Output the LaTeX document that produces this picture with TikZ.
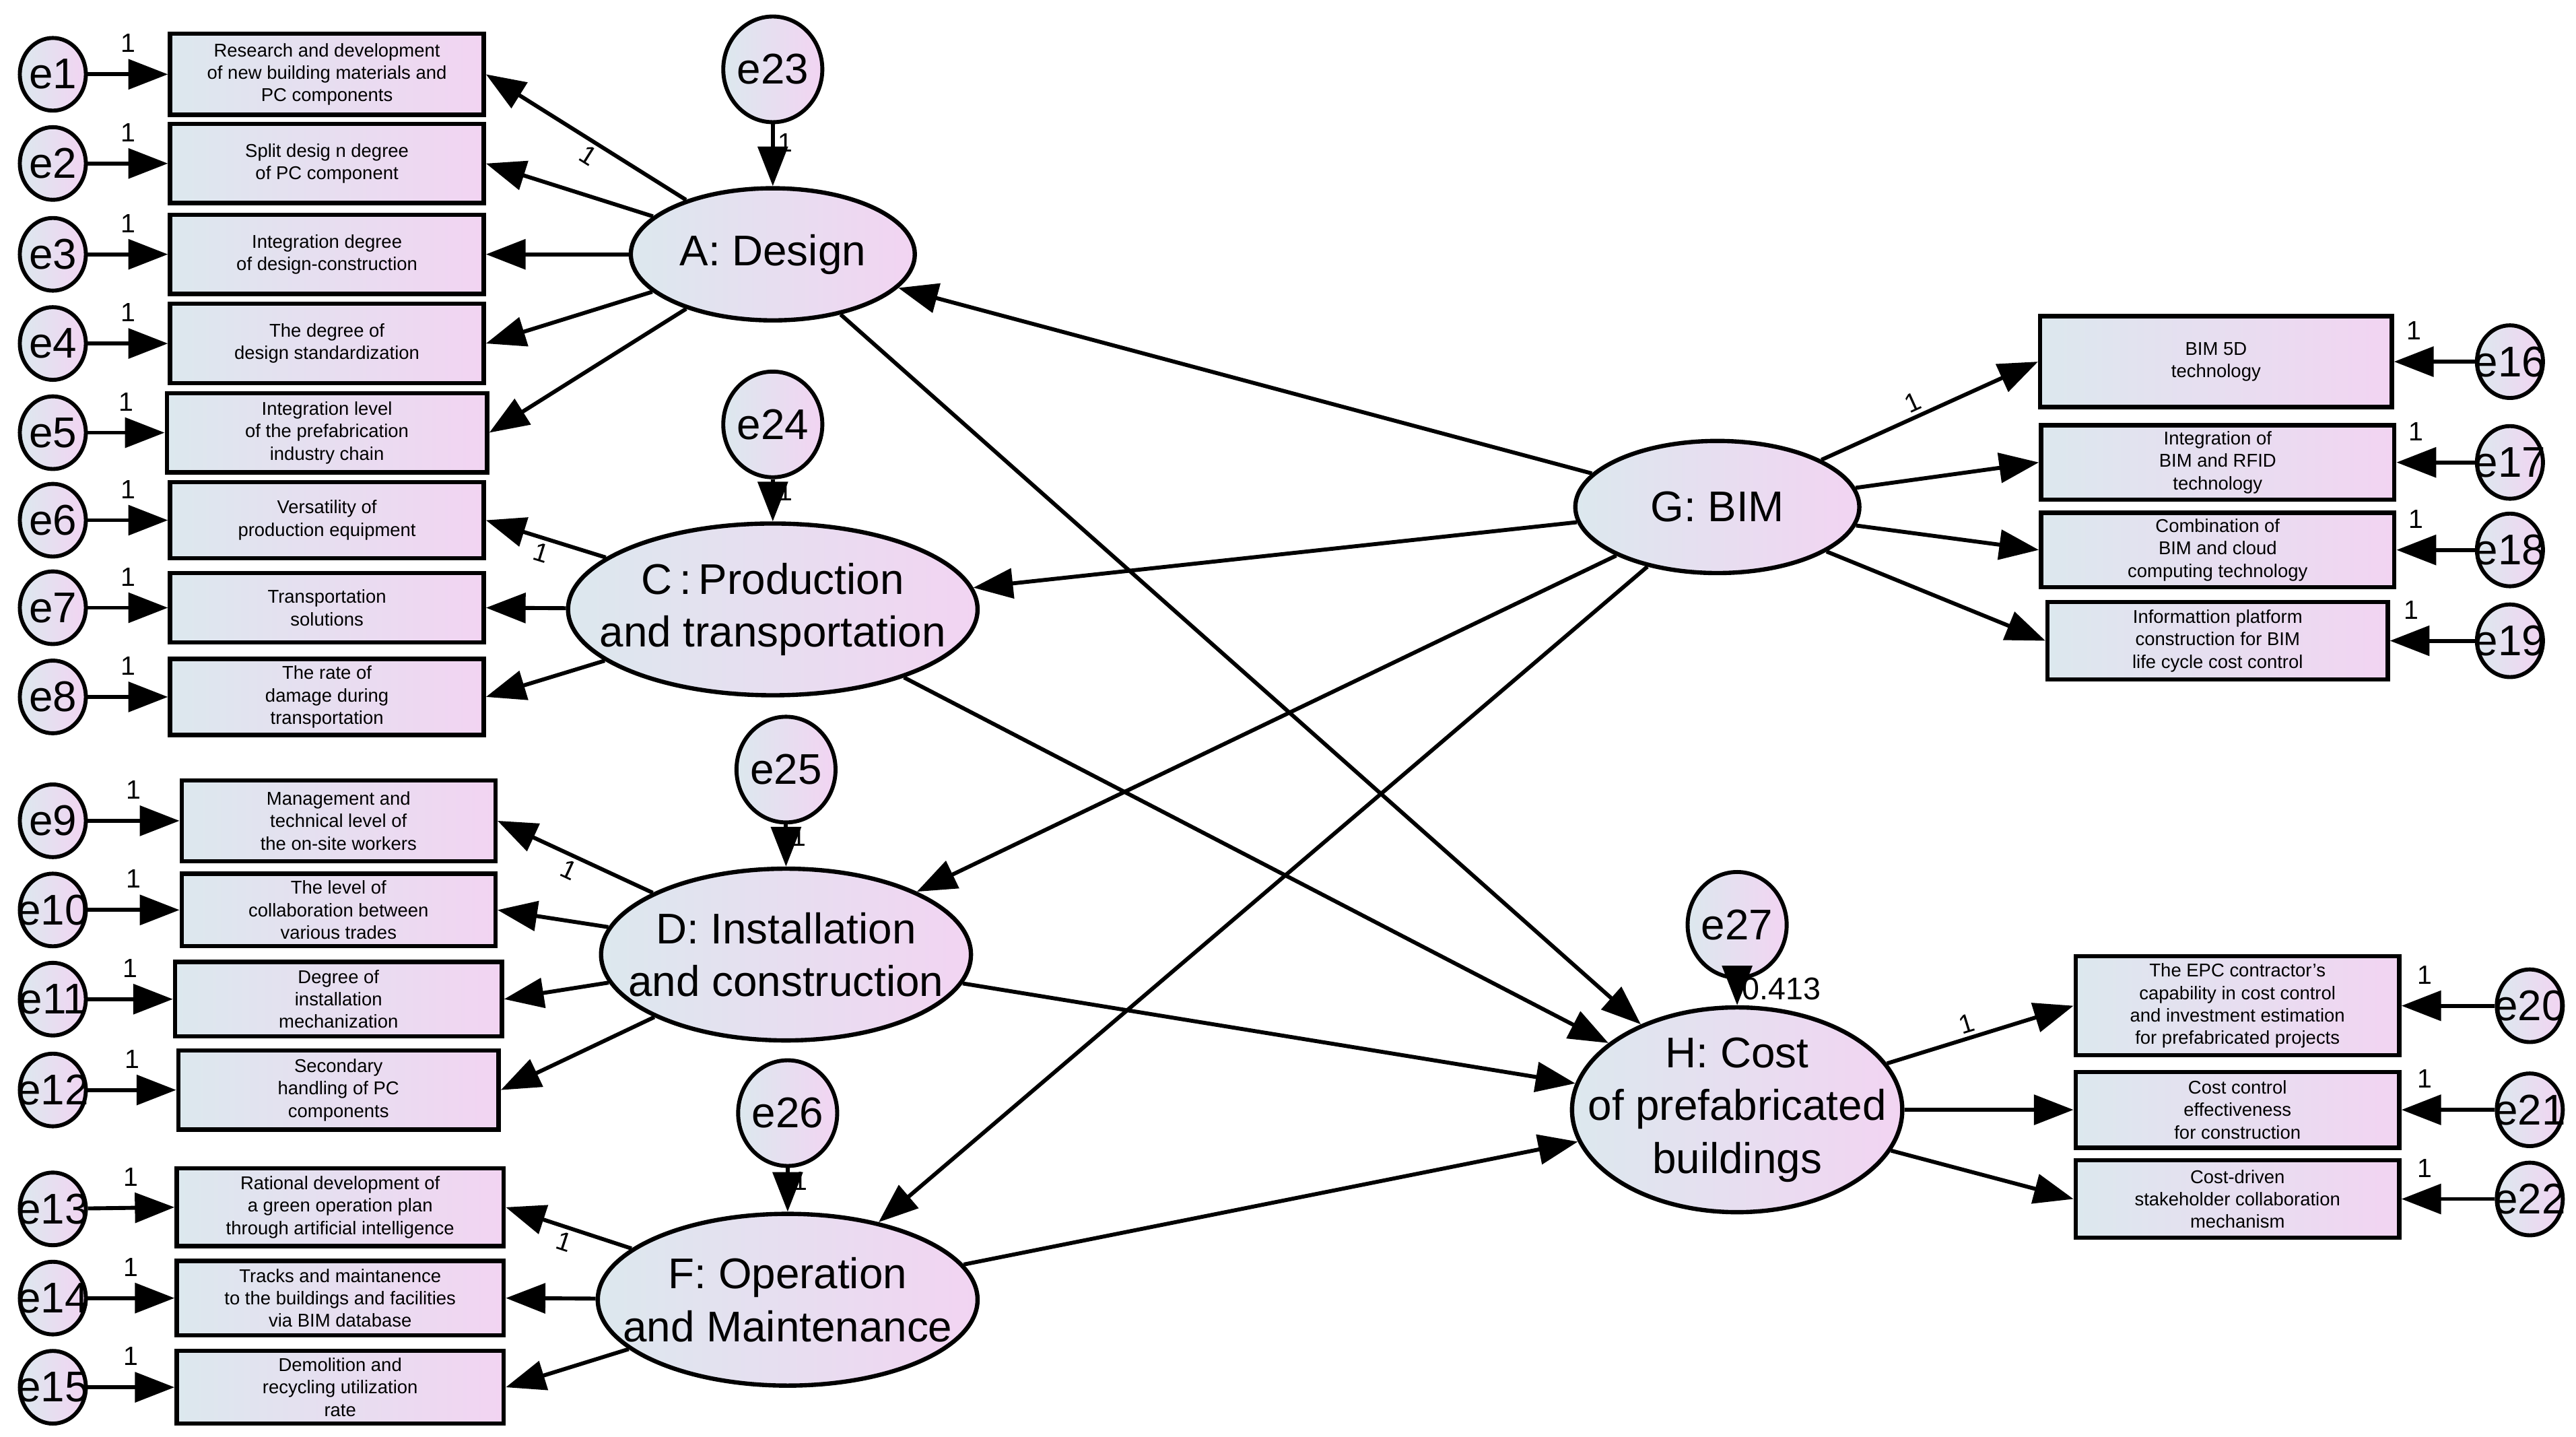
\documentclass[tikz,border=0pt]{standalone}
\usepackage{fontspec}
\setmainfont{Liberation Sans}
\usetikzlibrary{shapes.geometric,arrows.meta}
\definecolor{shL}{HTML}{DCE8EE}
\definecolor{shR}{HTML}{F2D4F2}
\begin{document}
\begin{tikzpicture}[x=0.5pt,y=-0.5pt,
  fillsh/.style={left color=shL,right color=shR},
  box/.style={draw,line width=1.3pt,fillsh,font=\fontsize{5.6}{6.8}\selectfont,align=center,minimum width=95pt,inner sep=0pt},
  err/.style={ellipse,draw,line width=1.2pt,fillsh,minimum width=20pt,minimum height=22pt,inner sep=-5pt,font=\fontsize{13}{13}\selectfont},
  errb/.style={err,minimum width=30pt,minimum height=32pt},
  lat/.style={ellipse,draw,line width=1.3pt,fillsh,inner xsep=-20pt,inner ysep=-6pt,align=center,font=\fontsize{13}{16}\selectfont},
  arr/.style={line width=1.2pt,-{Triangle[length=12pt,width=9pt]}},
  lab/.style={font=\fontsize{8}{8}\selectfont,inner sep=1pt}]
\useasboundingbox (0,0) rectangle (1560,870);
% latents
\node[lat,minimum width=86pt,minimum height=40pt] (A) at (468,154) {A: Design};
\node[lat,minimum width=124pt,minimum height=52pt] (C) at (468,369) {C\,:\,Production\\and transportation};
\node[lat,minimum width=112pt,minimum height=52pt] (D) at (476,578) {D: Installation\\and construction};
\node[lat,minimum width=115pt,minimum height=52pt] (F) at (477,787) {F: Operation\\and Maintenance};
\node[lat,minimum width=86pt,minimum height=40pt] (G) at (1040,307) {G: BIM};
\node[lat,minimum width=100pt,minimum height=62pt] (H) at (1052,672) {H: Cost\\of prefabricated\\buildings};
\node[errb] (e23) at (468,42) {e23};
\node[errb] (e24) at (468,257) {e24};
\node[errb] (e25) at (476,466) {e25};
\node[errb] (e26) at (477,674) {e26};
\node[errb] (e27) at (1052,560) {e27};
% left boxes
\node[box,minimum height=24.5pt] (b1) at (198,45) {Research and development\\of new building materials and\\PC components};
\node[box,minimum height=24pt] (b2) at (198,99) {Split desig n degree\\of PC component};
\node[box,minimum height=24pt] (b3) at (198,154) {Integration degree\\of design-construction};
\node[box,minimum height=24pt] (b4) at (198,208) {The degree of\\design standardization};
\node[box,minimum height=24pt,minimum width=97pt] (b5) at (198,262) {Integration level\\of the prefabrication\\industry chain};
\node[box,minimum height=23pt] (b6) at (198,315) {Versatility of\\production equipment};
\node[box,minimum height=21pt] (b7) at (198,368) {Transportation\\solutions};
\node[box,minimum height=23pt] (b8) at (198,422) {The rate of\\damage during\\transportation};
\node[box,minimum height=24.5pt] (b9) at (205,497) {Management and\\technical level of\\the on-site workers};
\node[box,minimum height=22pt] (b10) at (205,551) {The level of\\collaboration between\\various trades};
\node[box,minimum height=22.5pt,minimum width=99pt] (b11) at (205,605) {Degree of\\installation\\mechanization};
\node[box,minimum height=24pt,minimum width=97pt] (b12) at (205,660) {Secondary\\handling of PC\\components};
\node[box,minimum height=23.5pt,minimum width=99pt] (b13) at (206,731) {Rational development of\\a green operation plan\\through artificial intelligence};
\node[box,minimum height=22.5pt,minimum width=99pt] (b14) at (206,786) {Tracks and maintanence\\to the buildings and facilities\\via BIM database};
\node[box,minimum height=22pt,minimum width=99pt] (b15) at (206,840) {Demolition and\\recycling utilization\\rate};
% right boxes
\node[box,minimum height=27.5pt,minimum width=106.5pt] (b16) at (1342,219) {BIM 5D\\technology};
\node[box,minimum height=22.5pt,minimum width=107pt] (b17) at (1343,280) {Integration of\\BIM and RFID\\technology};
\node[box,minimum height=22.5pt,minimum width=107pt] (b18) at (1343,333) {Combination of\\BIM and cloud\\computing technology};
\node[box,minimum height=23.5pt,minimum width=103pt] (b19) at (1343,388) {Informattion platform\\construction for BIM\\life cycle cost control};
\node[box,minimum height=30pt,minimum width=98pt] (b20) at (1355,609) {The EPC contractor's\\capability in cost control\\and investment estimation\\for prefabricated projects};
\node[box,minimum height=23pt,minimum width=98pt] (b21) at (1355,672) {Cost control\\effectiveness\\for construction};
\node[box,minimum height=23.5pt,minimum width=98pt] (b22) at (1355,726) {Cost-driven\\stakeholder collaboration\\mechanism};
% error terms
\foreach \i/\y in {1/45,2/99,3/154,4/208,5/262,6/315,7/368,8/422,9/497,10/551,11/605,12/660,13/732,14/786,15/840}{
  \node[err] (e\i) at (32,\y) {e\i};
  \draw[arr] (e\i) -- node[lab,above=5pt]{1} (b\i.west);
}
\foreach \i/\y in {16/219,17/280,18/333,19/388}{
  \node[err] (e\i) at (1520,\y) {e\i};
  \draw[arr] (e\i) -- node[lab,above=5pt,pos=0.75]{1} (b\i.east);
}
\foreach \i/\y in {20/609,21/672,22/726}{
  \node[err] (e\i) at (1532,\y) {e\i};
  \draw[arr] (e\i) -- node[lab,above=5pt,pos=0.75]{1} (b\i.east);
}
% loadings
\draw[arr] (A) -- node[lab,sloped,below,pos=0.45]{1} (b1.east);
\foreach \i in {2,3,4,5} \draw[arr] (A) -- (b\i.east);
\draw[arr] (C) -- node[lab,sloped,below,pos=0.5]{1} (b6.east);
\foreach \i in {7,8} \draw[arr] (C) -- (b\i.east);
\draw[arr] (D) -- node[lab,sloped,below,pos=0.5]{1} (b9.east);
\foreach \i in {10,11,12} \draw[arr] (D) -- (b\i.east);
\draw[arr] (F) -- node[lab,sloped,below,pos=0.5]{1} (b13.east);
\foreach \i in {14,15} \draw[arr] (F) -- (b\i.east);
\draw[arr] (G) -- node[lab,sloped,above,pos=0.45]{1} (b16.west);
\foreach \i in {17,18,19} \draw[arr] (G) -- (b\i.west);
\draw[arr] (H) -- node[lab,sloped,above,pos=0.45]{1} (b20.west);
\foreach \i in {21,22} \draw[arr] (H) -- (b\i.west);
% disturbances
\draw[arr] (e23) -- node[lab,right,pos=0.3]{1} (A);
\draw[arr] (e24) -- node[lab,right,pos=0.3]{1} (C);
\draw[arr] (e25) -- node[lab,right,pos=0.3]{1} (D);
\draw[arr] (e26) -- node[lab,right,pos=0.3]{1} (F);
\draw[arr] (e27) -- node[lab,right,pos=0.35,font=\fontsize{9.5}{9.5}\selectfont]{0.413} (H);
% structural
\foreach \t in {A,C,D,F} \draw[arr] (G) -- (\t);
\foreach \s in {A,C,D,F} \draw[arr] (\s) -- (H);
\end{tikzpicture}
\end{document}
